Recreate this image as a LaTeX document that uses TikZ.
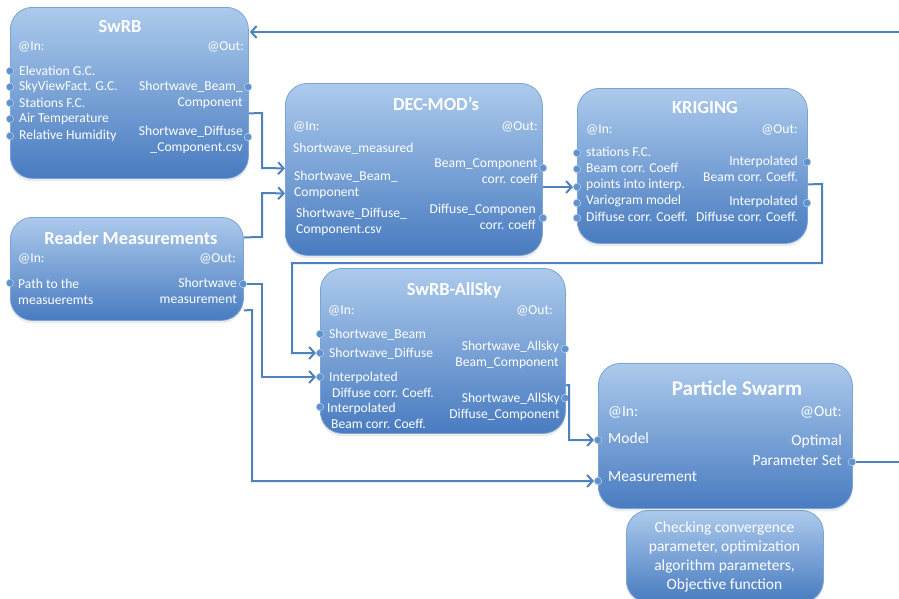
\documentclass[tikz,border=0pt]{standalone}
\usepackage{fontspec}
\setmainfont{Carlito}
\usetikzlibrary{arrows.meta,shadows}
\definecolor{connc}{RGB}{79,129,189}
\definecolor{boxtop}{RGB}{172,202,236}
\definecolor{boxbot}{RGB}{72,123,192}
\definecolor{boxedge}{RGB}{122,163,214}
\definecolor{dotfill}{RGB}{96,146,206}
\definecolor{dotedge}{RGB}{175,202,234}
\begin{document}
\begin{tikzpicture}[x=1pt,y=-1pt,
  box/.style={rectangle, rounded corners=22pt, draw=boxedge, line width=0.8pt,
    top color=boxtop, bottom color=boxbot, anchor=north west, inner sep=0pt,
    drop shadow={shadow xshift=0pt,shadow yshift=-3pt,opacity=0.15}},
  ttl/.style={font=\fontsize{18.4}{20}\selectfont\bfseries, text=white, inner sep=0pt},
  txt/.style={font=\fontsize{13.6}{16}\selectfont, text=white, inner sep=0pt},
  lft/.style={txt, anchor=west, align=left},
  rgt/.style={txt, anchor=east, align=right},
  big/.style={font=\fontsize{15.5}{20}\selectfont},
  port/.style={circle, minimum size=7.5pt, inner sep=0pt, fill=dotfill, draw=dotedge, line width=0.6pt},
  link/.style={draw=connc, line width=2pt},
  arr/.style={link, -{Straight Barb[length=5.5pt,width=12pt]}}]
\useasboundingbox (0,0) rectangle (899,598);

% ---------- SwRB
\node[box, minimum width=238pt, minimum height=171pt] (swrb) at (10,7) {};
\node[ttl] (swrbT) at (120,27) {SwRB};
\node[lft] (swrbIn) at (18,47) {@In:};
\node[rgt] (swrbOut) at (244,47) {@Out:};
\node[lft] (swrbI1) at (19,71) {Elevation G.C.};
\node[lft] (swrbI2) at (19,87) {SkyViewFact. G.C.};
\node[lft] (swrbI3) at (19,103) {Stations F.C.};
\node[lft] (swrbI4) at (19,119) {Air Temperature};
\node[lft] (swrbI5) at (19,136) {Relative Humidity};
\node[rgt] (swrbO1) at (243,94.5) {Shortwave\_Beam\_\\Component};
\node[rgt] (swrbO2) at (243,139.5) {Shortwave\_Diffuse\\\_Component.csv};
\node[port] (swrbP1) at (10,71) {};
\node[port] (swrbP2) at (10,87) {};
\node[port] (swrbP3) at (10,103) {};
\node[port] (swrbP4) at (10,119) {};
\node[port] (swrbP5) at (10,136) {};
\node[port] (swrbQ1) at (248,87) {};
\node[port] (swrbQ2) at (248,137) {};

% ---------- DEC-MOD's
\node[box, minimum width=257pt, minimum height=172pt] (dec) at (285,83) {};
\node[ttl] (decT) at (436,104) {DEC-MOD’s};
\node[lft] (decIn) at (293,127) {@In:};
\node[rgt] (decOut) at (538,127) {@Out:};
\node[lft] (decI1) at (293,149) {Shortwave\_measured};
\node[lft] (decI2) at (294,185) {Shortwave\_Beam\_\\Component};
\node[lft] (decI3) at (296,222) {Shortwave\_Diffuse\_\\Component.csv};
\node[rgt] (decO1) at (538,171.5) {Beam\_Component\\corr. coeff};
\node[rgt] (decO2) at (536,216.5) {Diffuse\_Componen\\corr. coeff};
\node[port] (decQ1) at (543,168) {};
\node[port] (decQ2) at (543,218) {};

% ---------- KRIGING
\node[box, minimum width=230pt, minimum height=155pt] (kri) at (577,88) {};
\node[ttl] (kriT) at (705,108) {KRIGING};
\node[lft] (kriIn) at (586,130) {@In:};
\node[rgt] (kriOut) at (798,130) {@Out:};
\node[lft] (kriI1) at (586,152) {stations F.C.};
\node[lft] (kriI2) at (586,168) {Beam corr. Coeff};
\node[lft] (kriI3) at (586,185) {points into interp.};
\node[lft] (kriI4) at (586,201) {Variogram model};
\node[lft] (kriI5) at (586,217) {Diffuse corr. Coeff.};
\node[rgt] (kriO1) at (798,169) {Interpolated\\Beam corr. Coeff.};
\node[rgt] (kriO2) at (798,209) {Interpolated\\Diffuse corr. Coeff.};
\node[port] (kriP1) at (577,153) {};
\node[port] (kriP2) at (577,169) {};
\node[port] (kriP3) at (577,187) {};
\node[port] (kriP4) at (577,203) {};
\node[port] (kriP5) at (577,218) {};
\node[port] (kriQ1) at (807,162) {};
\node[port] (kriQ2) at (807,203) {};

% ---------- Reader Measurements
\node[box, minimum width=233pt, minimum height=103pt] (reader) at (10,217) {};
\node[ttl] (readT) at (131,238) {Reader Measurements};
\node[lft] (readIn) at (18,259) {@In:};
\node[rgt] (readOut) at (236,259) {@Out:};
\node[lft] (readI1) at (18,291.5) {Path to the\\measueremts};
\node[rgt] (readO1) at (237,290.5) {Shortwave\\measurement};
\node[port] (readP1) at (10,283) {};
\node[port] (readQ1) at (243,284) {};

% ---------- SwRB-AllSky
\node[box, minimum width=245pt, minimum height=165pt] (allsky) at (320,268) {};
\node[ttl] (allT) at (454,290) {SwRB-AllSky};
\node[lft] (allIn) at (328,311) {@In:};
\node[rgt] (allOut) at (553,311) {@Out:};
\node[lft] (allI1) at (329,335) {Shortwave\_Beam};
\node[lft] (allI2) at (329,354) {Shortwave\_Diffuse};
\node[lft] (allI3) at (329,384.5) {Interpolated\\\hspace*{3pt}Diffuse corr. Coeff.};
\node[lft] (allI4) at (327,415.5) {Interpolated\\\hspace*{4pt}Beam corr. Coeff.};
\node[rgt] (allO1) at (559,355) {Shortwave\_Allsky\\Beam\_Component};
\node[rgt] (allO2) at (560,406.5) {Shortwave\_AllSky\\Diffuse\_Component};
\node[port] (allP1) at (320,334) {};
\node[port] (allP2) at (320,353) {};
\node[port] (allP3) at (320,377) {};
\node[port] (allP4) at (320,407) {};
\node[port] (allQ1) at (565,349) {};
\node[port] (allQ2) at (565,398) {};

% ---------- Particle Swarm
\node[box, minimum width=197pt, minimum height=92pt] (chk) at (626,510) {};
\node[txt, align=center, font=\fontsize{15.5}{19}\selectfont] (chkT) at (724.5,557)
  {Checking convergence\\parameter, optimization\\algorithm parameters,\\Objective function};
\node[box, minimum width=254pt, minimum height=145pt] (pso) at (598,363) {};
\node[ttl, font=\fontsize{21}{24}\selectfont\bfseries] (psoT) at (737,388) {Particle Swarm};
\node[lft, big] (psoIn) at (608,412) {@In:};
\node[rgt, big] (psoOut) at (842,412) {@Out:};
\node[lft, big] (psoI1) at (608,438) {Model};
\node[lft, big] (psoI2) at (608,477) {Measurement};
\node[rgt, big] (psoO1) at (842,450) {Optimal\\Parameter Set};
\node[port] (psoP1) at (598,440) {};
\node[port] (psoP2) at (598,481) {};
\node[port] (psoQ1) at (852,462) {};

% ---------- free ends at the right border
\coordinate (outR) at (899,462);
\coordinate (topR) at (899,32);

% ---------- connectors
\draw[arr] ([yshift=-20.5pt]swrb.east) -- (262,113) -- (262,168) -- ([yshift=1pt]dec.west);
\draw[arr] ([yshift=31.5pt]reader.east) -- (262,237) -- (262,193) -- ([yshift=-24pt]dec.west);
\draw[arr] (dec.east |- kriP3) -- (kriP3.west);
\draw[arr] ([yshift=-18.5pt]kri.east) -- (822,184) -- (822,263) -- (292,263) |- (allP2.west);
\draw[arr] (readQ1.east) -- (262,284) |- (allP3.west);
\draw[arr] ([yshift=-41.5pt]reader.east) -- (252,310) |- (psoP2.west);
\draw[arr] ([yshift=-34.5pt]allsky.east) -- (569,385) |- (psoP1.west);
\draw[link] (psoQ1.east) -- (outR);
\draw[arr, shorten >=1pt] (topR) -- (swrb.east |- topR);
\end{tikzpicture}
\end{document}
